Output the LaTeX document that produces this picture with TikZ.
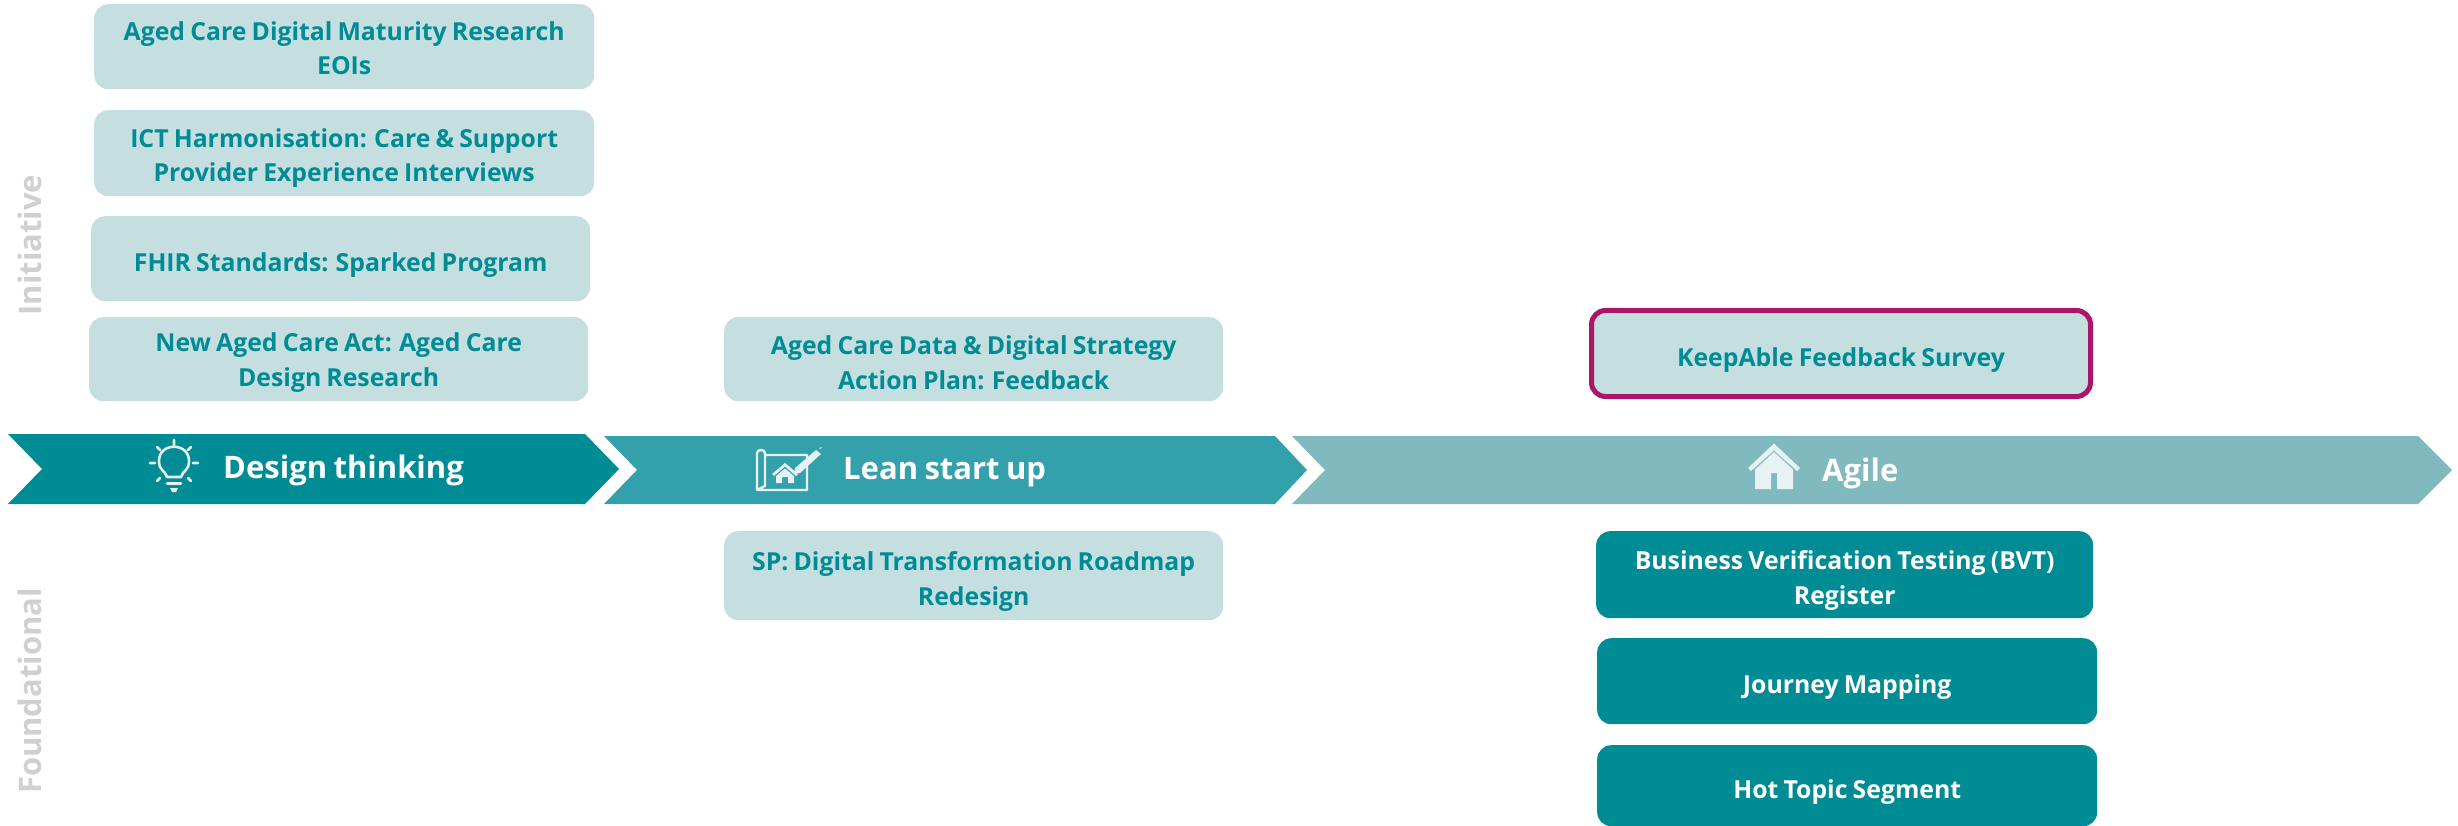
\documentclass[tikz,border=0pt]{standalone}
\usepackage{fontspec}
\setmainfont{Open Sans}[WordSpace=0.8]
\definecolor{tealA}{HTML}{008C95}
\definecolor{tealB}{HTML}{33A1AC}
\definecolor{tealC}{HTML}{80B9BE}
\definecolor{pale}{HTML}{C5DFE1}
\definecolor{plum}{HTML}{AB1669}
\definecolor{iconw}{HTML}{E6F2F3}
\definecolor{sidegray}{HTML}{D0D0D0}
\tikzset{
  x=1pt,y=-1pt,
  boxbase/.style={rounded corners=14pt,inner sep=0pt,align=center,font=\bfseries\fontsize{24.8}{34.5}\selectfont},
  lightbox/.style={boxbase,fill=pale,text=tealA},
  darkbox/.style={boxbase,fill=tealA,text=white},
  hlbox/.style={lightbox,draw=plum,line width=5pt},
  phase/.style={inner sep=0pt,text=white,font=\bfseries\fontsize{31}{36}\selectfont,anchor=west},
  side/.style={rotate=90,inner sep=0pt,text=sidegray,font=\bfseries\fontsize{31}{36}\selectfont},
  icon/.style={draw=iconw,line width=2.6pt,line cap=round,line join=round},
}
% style, x1, y1, x2, y2, name, height of the first line, text
\newcommand{\tbox}[8]{\node[#1,minimum width=#4pt-#2pt,minimum height=#5pt-#3pt,anchor=north west] (#6) at (#2,#3) {\rule{0pt}{#7pt}#8};}
\begin{document}
\begin{tikzpicture}
\useasboundingbox (0,0) rectangle (2458,826);
% chevrons
\fill[tealC] (1292,436)--(2418,436)--(2452,470)--(2418,504)--(1292,504)--(1325,470)--cycle;
\fill[tealB] (604,436)--(1275,436)--(1307,470)--(1275,504)--(604,504)--(637,470)--cycle;
\fill[tealA] (8,434)--(585,434)--(619,469)--(585,504)--(8,504)--(42,469)--cycle;
% boxes
\tbox{lightbox}{94}{4}{594}{89}{b1}{22}{Aged Care Digital Maturity Research\\EOIs}
\tbox{lightbox}{94}{110}{594}{196}{b2}{29}{ICT Harmonisation: Care \& Support\\Provider Experience Interviews}
\tbox{lightbox}{91}{216}{590}{301}{b3}{31}{FHIR Standards: Sparked Program}
\tbox{lightbox}{89}{317}{588}{401}{b4}{26}{New Aged Care Act: Aged Care\\Design Research}
\tbox{lightbox}{724}{317}{1223}{401}{b5}{26}{Aged Care Data \& Digital Strategy\\Action Plan: Feedback}
\tbox{hlbox}{1589}{308}{2088}{394}{b6}{31}{KeepAble Feedback Survey}
\tbox{lightbox}{724}{531}{1223}{620}{b7}{31}{SP: Digital Transformation Roadmap\\Redesign}
\tbox{darkbox}{1596}{531}{2093}{618}{b8}{31}{Business Verification Testing (BVT)\\Register}
\tbox{darkbox}{1597}{638}{2097}{724}{b9}{31}{Journey Mapping}
\tbox{darkbox}{1597}{745}{2097}{826}{b10}{31}{Hot Topic Segment}
% phase labels
\node[phase] (p1) at (223,470) {Design thinking};
\node[phase] (p2) at (843,472) {Lean start up};
\node[phase] (p3) at (1822,473) {Agile};
% side labels
\node[side] (s1) at (30,245) {Initiative};
\node[side] (s2) at (30,691) {Foundational};
% bulb icon
\draw[icon] (167,477)--(181,477) .. controls (183,470) and (189,471) .. (189,461) .. controls (189,442) and (159,442) .. (159,461) .. controls (159,471) and (165,470) .. (167,477);
\draw[icon] (167,483.5)--(181,483.5);
\fill[iconw] (170,488)--(178,488)--(176,492)--(172,492)--cycle;
\draw[icon] (174,440)--(174,445) (157,447)--(160,450) (191,447)--(188,450) (150,463)--(155,463) (198,463)--(193,463) (157,481)--(160,478) (191,481)--(188,478);
% blueprint icon
\draw[icon,line width=2.4pt] (765,455)--(807,455)--(807,490)--(757,490)--(757,453) .. controls (757,449) and (765,449) .. (765,453) -- (765,486) -- (757,490);
\fill[iconw] (795,468)--(816,450)--(821,454)--(800,473)--(794,474)--cycle;
\fill[iconw] (819,448)--(822,447)--(820,449)--cycle;
\fill[iconw] (772,474)--(785,463)--(798,474)--(796,476)--(785,466.5)--(774,476)--cycle;
\fill[iconw] (776,476)--(785,468.5)--(794,476)--(794,483)--(788,483)--(788,477)--(782,477)--(782,483)--(776,483)--cycle;
% house icon
\fill[iconw] (1774,443.5)--(1800,468)--(1797,471)--(1774,450.5)--(1751,471)--(1748,468)--cycle;
\fill[iconw] (1755,469.5)--(1774,452)--(1793,469.5)--(1793,489)--(1777,489)--(1777,473)--(1771,473)--(1771,489)--(1755,489)--cycle;
\end{tikzpicture}
\end{document}
